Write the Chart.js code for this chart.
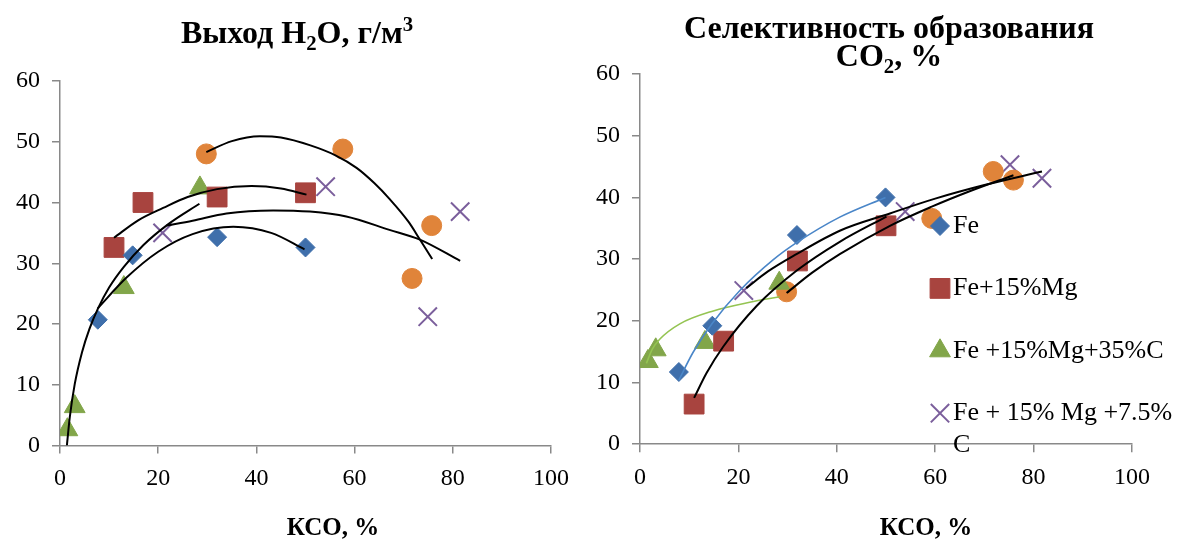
<!DOCTYPE html>
<html>
<head>
<meta charset="utf-8">
<script src="https://cdn.jsdelivr.net/npm/chart.js@4.4.0/dist/chart.umd.min.js"></script>
<style>
    html, body { margin: 0; padding: 0; background: #fff; }
    #wrap { position: relative; width: 1178px; height: 544px; overflow: hidden;
            font-family: 'Liberation Serif', 'Times New Roman', serif; color: #000; }
    canvas { position: absolute; top: 0; }
    .ttl { position: absolute; font-weight: bold; white-space: nowrap; text-align: center;
           transform: translateX(-50%); }
    .ttl sub, .ttl sup { font-size: 0.65em; line-height: 0; }
</style>
</head>
<body>
<div id="wrap">
    <canvas id="h2oChart" width="590" height="544" style="left:0"></canvas>
    <canvas id="co2Chart" width="588" height="544" style="left:590px"></canvas>

    <div class="ttl" style="left:297px; top:18px; font-size:32px; line-height:28px;">Выход H<sub>2</sub>O, г/м<sup>3</sup></div>
    <div class="ttl" style="left:889px; top:13px; font-size:32px; line-height:28px;">Селективность образования<br>CO<sub>2</sub>, %</div>
    <div class="ttl" style="left:333px; top:515px; font-size:25px; line-height:24px;">КСО, %</div>
    <div class="ttl" style="left:926px; top:515px; font-size:25px; line-height:24px;">КСО, %</div>
</div>
<script>
// Axis ticks (both charts share them)
const xTicks = [0, 20, 40, 60, 80, 100];
const yTicks = [0, 10, 20, 30, 40, 50, 60];

// Series names (the orange series has no legend entry in the original)
const seriesNames = ['Fe', 'Fe+15%Mg', 'Fe +15%Mg+35%C', '', ['Fe + 15% Mg +7.5%', 'C']];

// Выход H2O, г/м3 — points [КСО, value]
const h2oFe    = [[7.7, 20.7], [14.8, 31.3], [32, 34.3], [50, 32.6]];
const h2oMg    = [[11, 32.6], [16.9, 40.0], [32, 40.9], [50, 41.6]];
const h2oMgC35 = [[1.5, 2.6], [3.0, 6.4], [13, 26.0], [28.5, 42.4]];
const h2oOther = [[29.8, 48.0], [57.6, 48.8], [71.7, 27.5], [75.7, 36.2]];
const h2oMgC75 = [[20.9, 35.0], [54.1, 42.6], [74.9, 21.2], [81.5, 38.5]];

// trend lines as they appear on the picture
const h2oFeFit    = [[7.7, 22.6], [13.5, 27.6], [20, 31.9], [27, 34.8], [35.3, 36.0], [43, 35.0], [49.8, 32.3]];
const h2oMgFit    = [[11, 34.2], [16, 37.1], [21, 39.1], [26, 40.9], [32, 42.2], [39, 42.7], [45, 42.3], [50.2, 41.3]];
const h2oMgC35Fit = [[1.4, 0], [2, 4.7], [3, 10.1], [4.5, 15.4], [6, 19.2], [7.7, 22.5], [10, 26], [13, 29.4], [17, 33], [22, 36.4], [28.4, 39.8]];
const h2oOtherFit = [[29.8, 48.3], [35, 50.1], [40.7, 50.9], [45, 50.7], [51, 49.4], [56, 47.8], [60.4, 45.7], [64, 43.2], [67.1, 40.6], [71, 36.8], [73.3, 33.9], [75.8, 30.7]];
const h2oMgC75Fit = [[21.7, 36.2], [27, 37.0], [33.9, 38.2], [43.4, 38.7], [50.9, 38.5], [58.3, 37.7], [67.1, 35.5], [73.3, 33.9], [81.5, 30.4]];

// Селективность образования CO2, %
const co2Fe    = [[7.9, 11.7], [14.7, 19.2], [31.9, 33.9], [49.9, 40.0]];
const co2Mg    = [[11, 6.5], [17, 16.7], [32, 29.7], [50, 35.4]];
const co2MgC35 = [[1.6, 13.4], [3.2, 15.3], [13.2, 16.5], [28.3, 26.1]];
const co2Other = [[29.8, 24.7], [59.3, 36.6], [71.8, 44.2], [75.9, 42.8]];
const co2MgC75 = [[21.1, 24.9], [53.9, 37.7], [75.2, 45.3], [81.7, 43.1]];

const co2FeFit    = [[7.9, 10.4], [10.8, 14.9], [14.7, 19.6], [20.3, 24.9], [27.1, 29.9], [31.9, 32.7], [40.6, 36.8], [49.9, 40.0]];
const co2MgFit    = [[11, 7.5], [13.5, 11.5], [16.9, 15.8], [23.7, 22.4], [31.8, 28.1], [40.6, 32.8], [50.1, 36.9]];
const co2MgC35Fit = [[1.3, 13.1], [2.5, 15.4], [4, 17.0], [8.1, 19.5], [14.9, 21.6], [22.3, 23.0], [28.4, 23.9]];
const co2OtherFit = [[29.8, 24.5], [35, 27.8], [40.6, 30.8], [50.8, 35.4], [59.3, 38.5], [67, 41.0], [75.9, 43.6]];
const co2MgC75Fit = [[21.6, 25.3], [26, 28.0], [31.8, 30.8], [40.6, 34.6], [50.8, 37.4], [60, 39.8], [70, 42.0], [81.7, 44.2]];

const FONT = "'Liberation Serif', 'Times New Roman', serif";
const AXIS_GRAY = '#898989';

// marker look for each series, same order as seriesNames
const markerStyles = [
    { pointStyle: 'rectRot',  radius: 9.5, color: '#3f6fab' },
    { pointStyle: 'rect',     radius: 14,  color: '#a8443f' },
    { pointStyle: 'triangle', radius: 12,  color: '#82a64a' },
    { pointStyle: 'circle',   radius: 10,  color: '#e0843a' },
    { pointStyle: 'crossRot', radius: 13,  color: '#7b5f9c' },
];

const toXY = pts => pts.map(([x, y]) => ({ x, y }));

const pointSet = (pts, i) => {
    const m = markerStyles[i];
    const isCross = m.pointStyle === 'crossRot';
    return {
        label: seriesNames[i],
        data: toXY(pts),
        showLine: false,
        pointStyle: m.pointStyle,
        pointRadius: m.radius,
        pointHoverRadius: m.radius,
        pointBackgroundColor: m.color,
        pointBorderColor: m.color,
        pointBorderWidth: isCross ? 2 : 1,
        order: 1,
    };
};

const fitSet = (pts, color, width) => ({
    label: '',
    data: toXY(pts),
    showLine: true,
    borderColor: color,
    borderWidth: width,
    pointRadius: 0,
    pointHoverRadius: 0,
    cubicInterpolationMode: 'monotone',
    fill: false,
    order: 0,
});

// draws the legend inside the plot, like the original
const sideLegend = {
    id: 'sideLegend',
    afterDraw(chart, args, opts) {
        if (!opts.items) return;
        const ctx = chart.ctx;
        ctx.save();
        opts.items.forEach((idx, k) => {
            const ds = chart.data.datasets[idx];
            const y = opts.top + k * opts.step;
            ctx.fillStyle = ds.pointBackgroundColor;
            ctx.strokeStyle = ds.pointBorderColor;
            ctx.lineWidth = ds.pointBorderWidth;
            Chart.helpers.drawPoint(ctx, {
                pointStyle: ds.pointStyle,
                radius: ds.pointRadius,
                borderWidth: ds.pointBorderWidth,
                rotation: 0,
            }, opts.markerX, y);
            ctx.fillStyle = '#000';
            ctx.font = `${opts.fontSize}px ${FONT}`;
            ctx.textAlign = 'left';
            ctx.textBaseline = 'middle';
            const lines = Array.isArray(ds.label) ? ds.label : [ds.label];
            lines.forEach((t, j) => ctx.fillText(t, opts.textX, y + j * opts.lineGap));
        });
        ctx.restore();
    }
};

const makeScales = (yWidth, xHeight) => ({
    x: {
        type: 'linear',
        min: 0,
        max: 100,
        afterBuildTicks: s => { s.ticks = xTicks.map(v => ({ value: v })); },
        afterFit: s => { s.height = xHeight; },
        ticks: { color: '#000', font: { family: FONT, size: 24 }, padding: 11, maxRotation: 0 },
        grid: { drawOnChartArea: false, drawTicks: true, tickLength: 8, color: AXIS_GRAY, lineWidth: 1.5 },
        border: { color: AXIS_GRAY, width: 1.5 },
    },
    y: {
        type: 'linear',
        min: 0,
        max: 60,
        afterBuildTicks: s => { s.ticks = yTicks.map(v => ({ value: v })); },
        afterFit: s => { s.width = yWidth; },
        ticks: { color: '#000', font: { family: FONT, size: 24 }, padding: 12 },
        grid: { drawOnChartArea: false, drawTicks: true, tickLength: 8, color: AXIS_GRAY, lineWidth: 1.5 },
        border: { color: AXIS_GRAY, width: 1.5 },
    },
});

// Left chart: Выход H2O
new Chart(document.getElementById('h2oChart'), {
    type: 'scatter',
    data: {
        datasets: [
            fitSet(h2oFeFit, '#000', 2),
            fitSet(h2oMgFit, '#000', 2),
            fitSet(h2oMgC35Fit, '#000', 2),
            fitSet(h2oOtherFit, '#000', 2),
            fitSet(h2oMgC75Fit, '#000', 2),
            pointSet(h2oFe, 0),
            pointSet(h2oMg, 1),
            pointSet(h2oMgC35, 2),
            pointSet(h2oOther, 3),
            pointSet(h2oMgC75, 4),
        ]
    },
    options: {
        responsive: false,
        animation: false,
        events: [],
        layout: { padding: { left: 0, right: 39, top: 81, bottom: 0 } },
        plugins: { legend: { display: false }, tooltip: { enabled: false }, title: { display: false } },
        scales: makeScales(60, 98.5),
    }
});

// Right chart: Селективность образования CO2
new Chart(document.getElementById('co2Chart'), {
    type: 'scatter',
    data: {
        datasets: [
            fitSet(co2FeFit, '#4a86c8', 1.6),
            fitSet(co2MgFit, '#000', 2),
            fitSet(co2MgC35Fit, '#94c452', 1.6),
            fitSet(co2OtherFit, '#000', 2),
            fitSet(co2MgC75Fit, '#000', 2),
            pointSet(co2Fe, 0),
            pointSet(co2Mg, 1),
            pointSet(co2MgC35, 2),
            pointSet(co2Other, 3),
            pointSet(co2MgC75, 4),
        ]
    },
    options: {
        responsive: false,
        animation: false,
        events: [],
        layout: { padding: { left: 0, right: 46, top: 74, bottom: 0 } },
        plugins: {
            legend: { display: false },
            tooltip: { enabled: false },
            title: { display: false },
            sideLegend: { items: [5, 6, 7, 9], markerX: 350, textX: 363, top: 226, step: 62.4, lineGap: 32, fontSize: 26 },
        },
        scales: makeScales(50, 99.8),
    },
    plugins: [sideLegend]
});
</script>
</body>
</html>
